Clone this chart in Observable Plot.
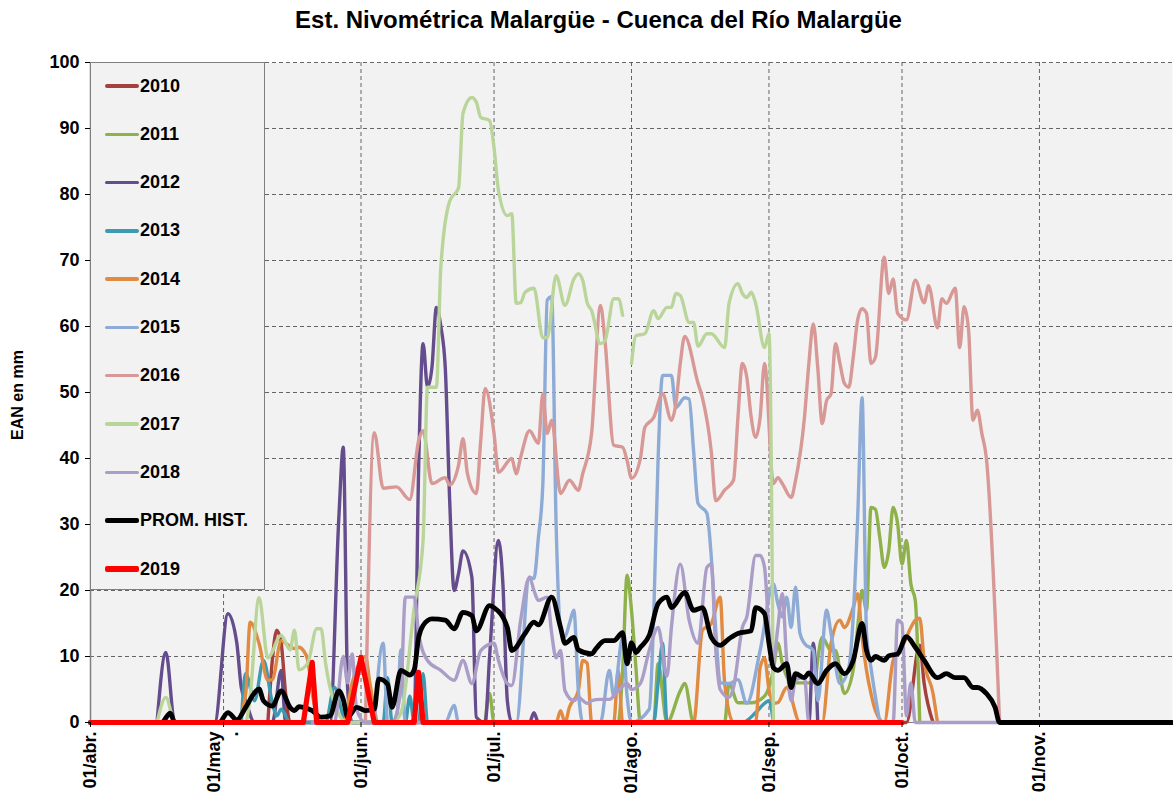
<!DOCTYPE html>
<html><head><meta charset="utf-8">
<script src="https://cdn.jsdelivr.net/npm/d3@7"></script>
<script src="https://cdn.jsdelivr.net/npm/@observablehq/plot@0.6"></script>
<style>
body{margin:0;background:#fff;font-family:Arial,"Liberation Sans",sans-serif}
#wrap{position:relative;width:1173px;height:803px;overflow:hidden;background:#fff}
#title{height:40px;line-height:40px;text-align:center;font-weight:bold;font-size:24px;padding-left:24px;box-sizing:border-box;color:#000}
#ylab{position:absolute;left:18px;top:395px;transform:translate(-50%,-50%) rotate(-90deg);font-weight:bold;font-size:16px;white-space:nowrap}
#legend{position:absolute;left:90px;top:62px;width:175px;height:528px;background:#f2f2f2;border:1px solid #7f7f7f;box-sizing:border-box}
.row{position:absolute;left:0;height:20px;display:flex;align-items:center;font-weight:bold;font-size:18px;color:#000}
.sw{width:34px;margin-left:14px;margin-right:1px}
</style></head><body>
<div id="wrap">
  <div id="title">Est. Nivométrica Malargüe - Cuenca del Río Malargüe</div>
  <div id="chart"></div>
  <div id="ylab">EAN en mm</div>
  <div id="legend"></div>
</div>
<script>
// Days counted from 01/abr. ; values = EAN in mm
const d2010 = [[40,0],[41,9.4],[42,14],[43,12],[44,4.4],[45,0],[184,0],[187,11.7],[188,5.9],[190,0]];
const d2011 = [[89,0],[90,4.4],[91,0],[119,0],[120,7.9],[121,22.3],[122,17],[123,8.3],[124,0],[127,0],[128,8.9],[130,0],[133,4.8],[134,5.9],[136,0],[143,0],[144,5.9],[146,3],[149,3],[152,4],[154,8],[155,12],[156,9],[158,6],[163,6],[165,12.9],[167,10.9],[168,10.9],[170,4.4],[172,8],[173,14.4],[174,20],[175,17],[176,32.6],[177,32.3],[178,28],[179,23.5],[180,26],[181,32.6],[182,30.2],[183,24],[184,27.6],[185,21],[186,18.5],[187,0]];
const d2012 = [[15,0],[17,10.6],[19,0],[28,0],[31,16.5],[33,12],[34,5.3],[35,3.3],[37,0],[41,0],[43,7.9],[44,0],[54,0],[56,31],[57,41.7],[58,5],[59,0],[72,0],[73,0.8],[74,38.6],[75,57.4],[76,50.8],[77,53.8],[78,62.9],[79,60],[80,53.8],[81,33.6],[82,20],[83,22.6],[84,26],[86,22],[87,0.8],[89,0],[90,10],[92,27.6],[93,21],[94,3.3],[95,0],[99,0],[100,1.5],[101,0],[162,0],[163,12],[164,0]];
const d2013 = [[34,0],[35,7.4],[37,3.3],[39,9.4],[41,3],[42,1],[43,2],[45,0],[53,0],[55,5.3],[57,1],[58,0],[66,0],[67,6.8],[68,0],[71,0],[72,4],[73,0],[74,0],[75,7.4],[76,0],[127,0],[128,6],[129,12],[130,0],[147,0],[150,1.5],[152,2.9],[153,3.3],[154,0]];
const d2014 = [[33,0],[35,4.4],[36,15.2],[38,12],[40,6.4],[41,6.5],[43,12.4],[44,12],[46,11.2],[47,11.4],[48,10.9],[49,9.4],[50,4.4],[52,0],[57,0],[59,6],[62,10],[63,6],[65,0],[105,0],[106,1.8],[107,0],[108,2.3],[110,4.8],[111,9.4],[112,9],[113,0],[118,0],[119,7.9],[120,0],[136,0],[138,14],[140,15],[142,19],[143,6],[145,0],[150,0],[151,8.3],[152,9.8],[153,5],[154,2.9],[155,3],[157,5.3],[160,0],[165,0],[167,12],[169,15.5],[170,14.4],[172,17.4],[173,19.5],[174,12.9],[175,7.9],[176,4.4],[177,1.8],[179,0],[181,9.4],[183,11.4],[185,14.4],[186,15.5],[187,15.8],[188,9.4],[190,4.4],[191,0]];
const d2015 = [[64,0],[66,12],[67,0],[69,0],[70,11],[71,0],[80,0],[82,2.6],[83,0],[96,0],[99,22],[100,21.8],[101,28],[102,36],[103,64],[104,64.5],[105,30],[106,14],[107,13],[108,15],[109,17],[110,5],[111,0],[115,0],[117,7.9],[118,4],[120,12.9],[121,4],[122,0],[126,2],[127,16],[128,40],[129,52.6],[131,52.6],[132,47.7],[134,49.2],[135,49],[136,41.2],[137,33.2],[139,31.7],[140,25],[141,14],[142,6],[144,5.9],[146,6.5],[148,2.9],[151,10.9],[154,21],[155,18],[156,16],[157,19],[158,14.4],[159,20.5],[160,13.5],[161,12],[163,10.9],[164,3.3],[166,17],[167,13.5],[169,5.9],[171,8.3],[172,16],[173,31],[174,49.2],[175,13.5],[176,8.3],[178,0]];
const d2016 = [[62,0],[64,43.9],[66,35.5],[69,35.7],[72,33.8],[74,42.7],[75,44.2],[77,36.2],[80,37.1],[81,36],[83,39],[84,43],[85,37.7],[87,34.7],[88,42.7],[89,50.6],[91,43.8],[92,37.9],[95,40],[96,37.7],[97,40.2],[99,44.2],[101,42.3],[102,49.8],[103,43.8],[104,45.8],[106,34.7],[108,36.7],[110,35.2],[111,37.7],[113,43.8],[115,63.2],[116,58],[118,42],[120,41.7],[121,39.7],[122,37],[124,40],[125,44.7],[127,46.2],[129,49.8],[131,45.8],[132,48.3],[133,54.4],[134,58.5],[137,51.4],[138,49.2],[140,41],[141,33.6],[143,35.2],[145,36.7],[146,46.2],[147,54.4],[148,52.3],[149,46.2],[150,43.2],[151,46.2],[152,54.4],[154,36.2],[155,37.1],[156,36.2],[158,34.1],[159,36.7],[161,46.2],[162,54.4],[163,60.4],[164,53.8],[165,45.3],[166,48.8],[167,49.8],[168,57.4],[169,54.4],[170,51.4],[171,50.8],[172,55.3],[173,61],[174,62.7],[175,62],[176,54.4],[177,55.3],[179,70.5],[180,65],[181,67.2],[182,62],[184,61],[186,67],[188,63.6],[189,66.2],[191,59.8],[192,64.2],[193,63.5],[195,65.8],[196,56.8],[197,63],[198,59.6],[199,45.8],[200,47.3],[201,43.8],[202,40.2],[205,0]];
const d2017 = [[15,0],[17,3.8],[19,0],[35,0],[36,4],[38,18.9],[40,9.8],[43,13.2],[45,11],[46,14],[47,8],[49,9],[51,14.2],[52,14.2],[53,9],[55,2.9],[58,0],[68,0],[70,1.4],[73,17.4],[75,27.6],[76,50.8],[78,50.8],[79,69],[81,79],[83,81],[84,92.3],[86,94.7],[87,94],[88,91.7],[90,91.2],[91,87.1],[92,80.6],[94,76.8],[95,77.1],[96,63.5],[97,63.6],[98,65.2],[100,65.8],[102,58.3],[103,58.3],[105,67.7],[107,63.2],[109,67.2],[110,68],[111,67],[112,63.6],[113,62.4],[115,57.4],[116,57.8],[118,64.2],[119,64.2],[120,61.7],[121,null],[122,54.4],[123,58.6],[125,58.9],[127,62.4],[128,61.2],[130,62.9],[131,62.9],[132,65],[133,64.7],[135,60.6],[136,60.6],[137,57],[139,58.9],[140,58.9],[143,56.8],[144,63.5],[146,66.5],[147,65],[148,64.4],[149,65.2],[150,63.5],[152,56.8],[153,58.9],[154,0]];
const d2018 = [[50,0],[55,0],[57,10],[58,6],[59,10.4],[60,2],[62,0],[68,0],[70,5],[71,19],[73,19],[74,13.5],[76,9.4],[79,7.9],[82,6.4],[84,9.4],[86,5.9],[88,10.9],[91,12],[92,9.4],[94,5.9],[95,5.6],[97,15.5],[99,22],[100,20],[101,18.5],[103,19],[104,13.5],[105,9.8],[106,10.9],[107,4.8],[109,3.3],[110,3.8],[112,2.9],[113,3.3],[115,3.5],[117,3.5],[119,4.8],[121,5.9],[122,5],[124,5.9],[126,10.9],[128,14.4],[130,7],[131,14.4],[133,24],[135,15.5],[137,12],[139,23.5],[140,24],[141,11],[142,5],[144,3.8],[145,5.3],[147,14.4],[148,16],[150,25.3],[151,25.3],[152,23.5],[153,14],[154,9.4],[155,14.4],[156,19.5],[157,9.4],[158,3.3],[159,6.5],[161,6.8],[162,0],[181,0],[182,15.5],[183,15],[184,1],[185,6],[186,0],[205,0]];
const dProm = [[0,0],[16,0],[18,1.4],[19,0],[29,0],[31,1.5],[33,0.4],[35,2.3],[37,4.5],[38,5.1],[39,3.3],[41,2.5],[43,4.8],[45,2.3],[46,1.8],[47,2.4],[48,2.3],[50,1.8],[52,0.8],[54,1],[56,4.8],[57,3.5],[58,0.8],[60,2.3],[62,1.8],[64,2],[65,6.6],[67,5.8],[68,2.3],[70,7.9],[72,7.2],[73,8],[74,12.9],[75,14.7],[77,15.7],[80,15.5],[82,14.2],[84,16.7],[86,16.2],[87,13.9],[90,17.7],[91,17.4],[94,14.4],[95,10.9],[98,13.5],[100,15.2],[101,14.8],[104,19],[106,14.4],[107,12],[109,12.9],[110,11],[113,10.4],[114,11.2],[116,12.4],[118,12.4],[120,13.6],[121,8.9],[122,12.1],[123,10.6],[124,11.4],[126,13.2],[128,18],[130,19],[131,17.4],[134,19.7],[136,17],[138,17.4],[140,12.9],[142,11.7],[144,12.7],[146,13.5],[149,13.9],[150,17.4],[152,16.5],[153,12],[154,8.3],[155,7.9],[157,8.9],[158,5.3],[159,7.4],[161,6.8],[162,7.5],[164,5.9],[166,7.9],[168,8.9],[170,7.4],[172,9.4],[174,15],[175,10.9],[176,9.4],[177,10],[179,9.4],[180,10.1],[182,10.4],[184,13],[186,11.4],[188,9.4],[191,6.8],[193,7.4],[195,6.8],[197,6.8],[199,5.3],[200,5.3],[202,4.4],[204,2.3],[205,0],[244,0]];
const d2019 = [[0,0],[48,0],[50,9.1],[51,0],[58,0],[61,9.9],[64,0],[73,0],[74,7.6],[75,0],[183,0]];

const seriesNames = ["2010","2011","2012","2013","2014","2015","2016","2017","2018","PROM. HIST.","2019"];
const seriesColors = ["#a5403d","#8fb14b","#654c8c","#3c9bb0","#e08a42","#8eabd6","#d89896","#bad59a","#aa9dc7","#000000","#ff0000"];
const seriesWidths = [3.4,3.4,3.4,3.4,3.4,3.4,3.4,3.4,3.4,4.8,5.2];
const seriesData = [d2010,d2011,d2012,d2013,d2014,d2015,d2016,d2017,d2018,dProm,d2019];

const monthTicks = ["2019-04-01","2019-05-01","2019-06-01","2019-07-01","2019-08-01","2019-09-01","2019-10-01","2019-11-01"];
const monthLabels = ["01/abr.","01/may\n.","01/jun.","01/jul.","01/ago.","01/sep.","01/oct.","01/nov."];
const yTicks = [0,10,20,30,40,50,60,70,80,90,100];

const base = Date.UTC(2019,3,1);
const toDate = d => new Date(base + d*864e5);
const tickDates = monthTicks.map(s => new Date(s + "T00:00:00Z"));
const labelOf = new Map(tickDates.map((d,i)=>[+d, monthLabels[i]]));

const rows = seriesNames.flatMap((name,i)=> seriesData[i].map(([d,v])=>({serie:name, fecha:toDate(d), ean:v})));

const lineMarks = seriesNames.map((name,i)=> Plot.line(rows.filter(r=>r.serie===name), {
  x:"fecha", y:"ean", stroke: seriesColors[i], strokeWidth: seriesWidths[i],
  curve: name==="2019" ? "linear" : "monotone-x", strokeLinejoin:"round", strokeLinecap:"round"
}));

const chart = Plot.plot({
  width:1173, height:763,
  marginTop:22, marginBottom:81, marginLeft:90, marginRight:1,
  style:{fontFamily:"Arial, 'Liberation Sans', sans-serif", background:"#fff", color:"#000"},
  x:{type:"utc", domain:[toDate(0), toDate(244)]},
  y:{domain:[0,100]},
  marks:[
    Plot.frame({fill:"#f2f2f2", stroke:null}),
    Plot.gridY(yTicks.slice(1), {stroke:"#555", strokeOpacity:0.9, strokeDasharray:"4,3"}),
    Plot.gridX(tickDates.slice(1), {stroke:"#555", strokeOpacity:0.9, strokeDasharray:"4,3"}),
    Plot.ruleX([toDate(0)], {stroke:"#7f7f7f", strokeWidth:1.5}),
    Plot.ruleY([0], {stroke:"#7f7f7f"}),
    ...lineMarks,
    Plot.axisY({ticks:yTicks, tickSize:5, tickPadding:6, fontSize:18, fontWeight:"bold", label:null}),
    Plot.axisX({ticks:tickDates, tickFormat:d=>labelOf.get(+d), tickRotate:-90, tickSize:5, tickPadding:4, fontSize:18, fontWeight:"bold", label:null})
  ]
});
document.getElementById("chart").appendChild(chart);

const legend = document.getElementById("legend");
seriesNames.forEach((name,i)=>{
  const row = document.createElement("div");
  row.className = "row";
  row.style.top = (13 + 48.3*i) + "px";
  const sw = document.createElement("div");
  sw.className = "sw";
  sw.style.height = seriesWidths[i] + "px";
  sw.style.background = seriesColors[i];
  sw.style.borderRadius = "2px";
  const t = document.createElement("span");
  t.textContent = name;
  row.appendChild(sw); row.appendChild(t);
  legend.appendChild(row);
});
</script>
</body></html>
